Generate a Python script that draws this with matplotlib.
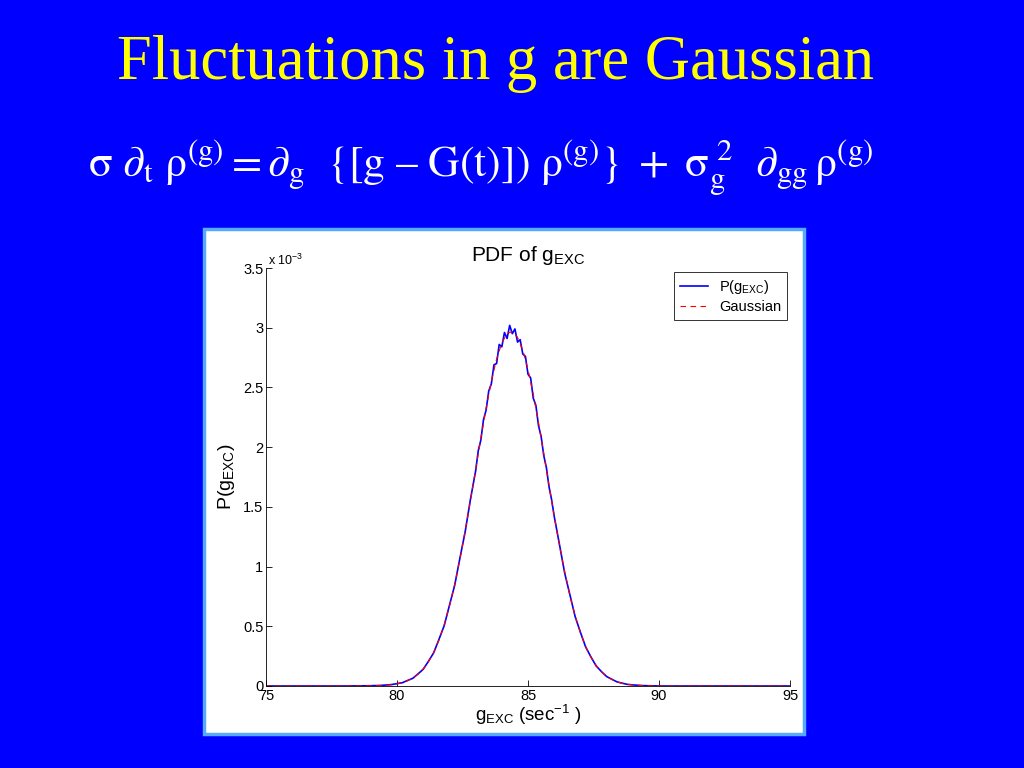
import matplotlib
matplotlib.use('Agg')
import matplotlib.pyplot as plt
from matplotlib.patches import Rectangle
from matplotlib.ticker import FormatStrFormatter

# fuentes para el gráfico (estilo MATLAB)
plt.rcParams['font.family'] = ['Liberation Sans', 'DejaVu Sans']
plt.rcParams['mathtext.fontset'] = 'custom'
plt.rcParams['mathtext.rm'] = 'Liberation Sans'
plt.rcParams['mathtext.it'] = 'Liberation Sans'

# Datos (P en unidades de 1e-3)
gauss_x = [75.0, 78.0, 79.0, 79.2, 79.4, 79.6, 79.8, 80.0, 80.2, 80.4, 80.6, 80.8,
           81.0, 81.2, 81.4, 81.6, 81.8, 82.0, 82.2, 82.4, 82.6, 82.8, 83.0, 83.2,
           83.4, 83.6, 83.8, 84.0, 84.2, 84.4, 84.6, 84.8, 85.0, 85.2, 85.4, 85.6,
           85.8, 86.0, 86.2, 86.4, 86.6, 86.8, 87.0, 87.2, 87.4, 87.6, 87.8, 88.0,
           88.2, 88.4, 88.6, 88.8, 89.0, 89.2, 89.4, 89.6, 90.0, 91.0, 95.0]
gauss_y = [0.0, 0.0, 0.0013, 0.0023, 0.0039, 0.0067, 0.011, 0.018, 0.028, 0.044, 0.066, 0.098,
           0.143, 0.203, 0.282, 0.384, 0.512, 0.667, 0.851, 1.062, 1.298, 1.551, 1.814, 2.077,
           2.327, 2.551, 2.737, 2.873, 2.952, 2.968, 2.920, 2.812, 2.650, 2.443, 2.204, 1.947,
           1.682, 1.423, 1.178, 0.954, 0.756, 0.586, 0.445, 0.331, 0.240, 0.171, 0.119, 0.081,
           0.054, 0.035, 0.022, 0.014, 0.0086, 0.005, 0.003, 0.0015, 0.0004, 0.0, 0.0]

pdf_x = [75.0, 78.0, 79.0, 79.4, 79.8, 80.0, 80.2, 80.4, 80.6, 80.8, 81.0, 81.2,
         81.4, 81.6, 81.8, 82.0, 82.2, 82.4, 82.6, 82.8, 83.0, 83.1, 83.2, 83.3,
         83.4, 83.5, 83.6, 83.7, 83.8, 83.9, 84.0, 84.1, 84.2, 84.3, 84.4, 84.5,
         84.6, 84.7, 84.8, 84.9, 85.0, 85.1, 85.2, 85.3, 85.4, 85.5, 85.6, 85.7,
         85.8, 85.9, 86.0, 86.2, 86.4, 86.6, 86.8, 87.0, 87.2, 87.4, 87.6, 87.8,
         88.0, 88.2, 88.4, 88.6, 88.8, 89.0, 89.4, 90.0, 91.0, 95.0]
pdf_y = [0.0, 0.0, 0.002, 0.005, 0.012, 0.020, 0.027, 0.046, 0.064, 0.101, 0.140, 0.207,
         0.278, 0.390, 0.505, 0.675, 0.842, 1.070, 1.290, 1.560, 1.800, 1.970, 2.060, 2.230,
         2.310, 2.470, 2.530, 2.690, 2.700, 2.860, 2.840, 2.960, 2.910, 3.020, 2.950, 2.990,
         2.880, 2.900, 2.780, 2.760, 2.610, 2.580, 2.410, 2.350, 2.180, 2.090, 1.930, 1.830,
         1.670, 1.560, 1.420, 1.185, 0.945, 0.762, 0.580, 0.450, 0.326, 0.244, 0.168, 0.121,
         0.079, 0.056, 0.034, 0.023, 0.013, 0.009, 0.003, 0.0, 0.0, 0.0]

x_ticks = [75, 80, 85, 90, 95]
y_ticks = [0, 0.5, 1, 1.5, 2, 2.5, 3, 3.5]

# Figura con fondo azul de diapositiva
fig = plt.figure(figsize=(10.24, 7.68), dpi=100, facecolor='#0000ff')

# Título y ecuación
fig.text(0.4835, 0.917, 'Fluctuations in g are Gaussian', color='#ffff00',
         fontsize=45, family='Liberation Serif', ha='center', va='center')
eq = (r'$\mathrm{σ\ ∂_{t}\ ρ^{(g)} = ∂_{g}\ \ \{[g\ –\ G(t)])\ ρ^{(g)}\}\ +\ '
      r'σ_{g}^{\ 2}\ \ ∂_{gg}\,ρ^{(g)}}$')
fig.text(0.086, 0.782, eq, color='white', fontsize=31.5, math_fontfamily='stix',
         ha='left', va='center')

# Recuadro blanco del gráfico (detrás de los ejes)
fig.patches.append(Rectangle((0.199, 0.044), 0.586, 0.658, transform=fig.transFigure,
                             facecolor='white', edgecolor='#55aaff', lw=2.5, zorder=-5))

ax = fig.add_axes([0.2598, 0.1068, 0.5117, 0.5442])
ax.set_facecolor('white')
ax.plot(pdf_x, pdf_y, color='#0000ff', lw=1.2, label=r'P(g$_{\mathrm{EXC}}$)')
ax.plot(gauss_x, gauss_y, color='#ff0000', lw=0.8, ls=(0, (5, 4)), label='Gaussian')

ax.set_xlim(75, 95)
ax.set_ylim(0, 3.5)
ax.set_xticks(x_ticks)
ax.set_yticks(y_ticks)
ax.yaxis.set_major_formatter(FormatStrFormatter('%g'))
ax.tick_params(direction='in', length=4, width=0.6, labelsize=10.5, pad=2)
for s in ['top', 'right']:
    ax.spines[s].set_visible(False)
for s in ['left', 'bottom']:
    ax.spines[s].set_linewidth(0.6)

ax.text(0.004, 1.0, r'x 10$^{-3}$', transform=ax.transAxes, fontsize=9,
        ha='left', va='bottom')
ax.set_title(r'PDF of g$_{\mathrm{EXC}}$', fontsize=15, pad=5)
ax.set_xlabel(r'g$_{\mathrm{EXC}}$ (sec$^{-1}$ )', fontsize=13.5, labelpad=0)
ax.set_ylabel(r'P(g$_{\mathrm{EXC}}$)', fontsize=14, labelpad=4)

leg = ax.legend(loc='upper right', fontsize=10.5, frameon=True, fancybox=False,
                edgecolor='black', handlelength=1.9, handletextpad=0.8,
                borderpad=0.4, labelspacing=0.3, borderaxespad=0.0,
                bbox_to_anchor=(0.995, 0.99))
leg.get_frame().set_linewidth(0.7)

fig.savefig('out.png', dpi=100, facecolor=fig.get_facecolor())
